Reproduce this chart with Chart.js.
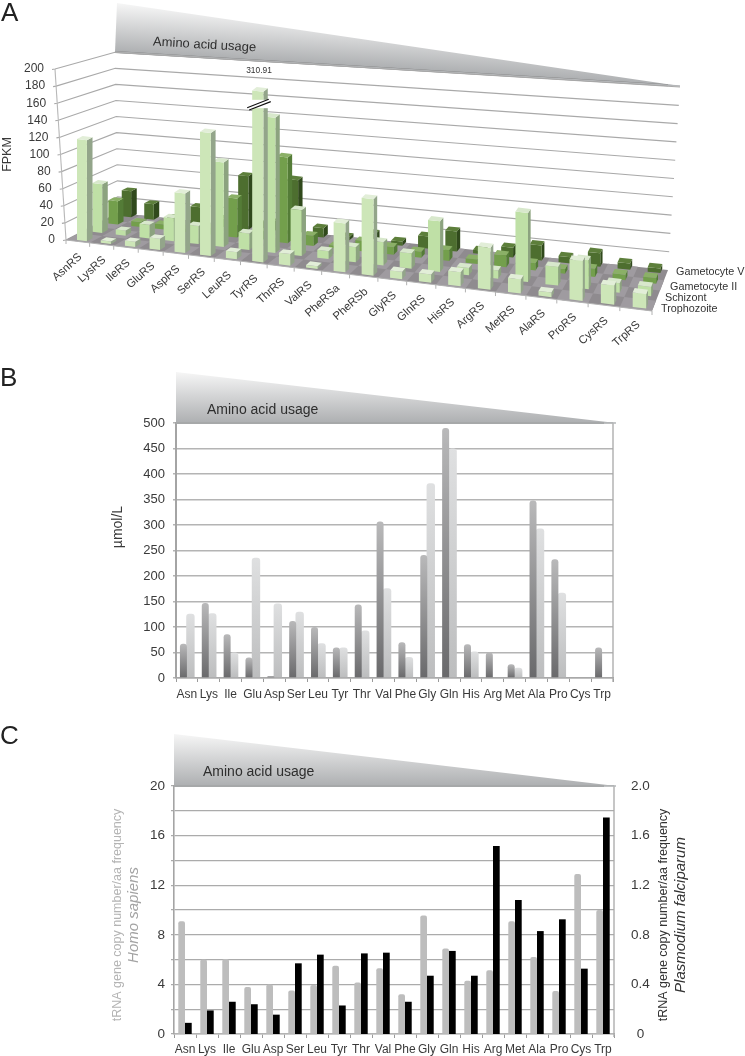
<!DOCTYPE html>
<html><head><meta charset="utf-8">
<script src="https://cdn.jsdelivr.net/npm/chart.js@4.4.0/dist/chart.umd.js"></script>
<style>
html,body{margin:0;padding:0;background:#fff;width:745px;height:1056px;overflow:hidden}
canvas{position:absolute;left:0;filter:blur(0.3px)}
#a{top:0}#b{top:360px}#c{top:715px}
</style></head><body>
<canvas id="a" width="745" height="345"></canvas>
<canvas id="b" width="745" height="350"></canvas>
<canvas id="c" width="745" height="341"></canvas>
<script>
// ---------- Panel A data (FPKM) ----------
const catsA=['AsnRS','LysRS','IleRS','GluRS','AspRS','SerRS','LeuRS','TyrRS','ThrRS','ValRS','PheRSa','PheRSb','GlyRS','GlnRS','HisRS','ArgRS','MetRS','AlaRS','ProRS','CysRS','TrpRS'];
const trophozoite=[118,3,6,13,68,140,8,310.91,13,3,54,84,8,9,15,45,15,5,42,20,15];
const schizont=[58,6,16,27,21,98,19,155,52,9,17,26,17,56,8,9,75,20,31,10,10];
const gametocyteII=[28,6,6,4,8,46,10,100,12,3,12,9,7,12,5,13,8,5,9,6,6];
const gametocyteV=[32,19,5,21,10,64,12,65,11,4,11,5,14,23,4,11,17,7,15,7,5];
const stages=['Trophozoite','Schizont','Gametocyte II','Gametocyte V'];
// ---------- Panel B data (umol/L) ----------
const catsAA=['Asn','Lys','Ile','Glu','Asp','Ser','Leu','Tyr','Thr','Val','Phe','Gly','Gln','His','Arg','Met','Ala','Pro','Cys','Trp'];
const plasmaDark=[67,147,86,40,4,112,100,60,144,307,70,241,490,66,50,27,348,233,0,60];
const plasmaLight=[126,127,50,236,146,130,68,60,93,176,41,382,450,52,0,20,293,167,0,0];
// ---------- Panel C data ----------
const homoSapiens=[9.1,6.0,6.05,3.8,4.0,3.5,3.95,5.5,4.15,5.3,3.2,9.55,6.9,4.3,5.15,9.1,6.2,3.47,12.9,10.0];
const plasmodium=[0.09,0.19,0.26,0.24,0.156,0.57,0.64,0.23,0.65,0.656,0.26,0.47,0.67,0.47,1.516,1.08,0.83,0.925,0.527,1.746];

const FONT='"Liberation Sans",Arial,sans-serif';
const TXT='#3a3a3a';
const lerp=(p,q,t)=>[p[0]+(q[0]-p[0])*t,p[1]+(q[1]-p[1])*t];

function poly(ctx,pts,fill){ctx.beginPath();pts.forEach((p,i)=>i?ctx.lineTo(p[0],p[1]):ctx.moveTo(p[0],p[1]));ctx.closePath();ctx.fillStyle=fill;ctx.fill();}
function text(ctx,s,x,y,font,color,rot,align){ctx.save();ctx.translate(x,y);if(rot)ctx.rotate(rot);ctx.font=font;ctx.fillStyle=color;ctx.textAlign=align||'left';ctx.textBaseline='middle';ctx.fillText(s,0,0);ctx.restore();}
function wedge(ctx,apex,base,tip,col0,col1){
  const dx=tip[0]-base[0],dy=tip[1]-base[1],l=(apex[0]-base[0])*dx+(apex[1]-base[1])*dy,q=dx*dx+dy*dy;
  const foot=[base[0]+dx*l/q,base[1]+dy*l/q];
  const g=ctx.createLinearGradient(apex[0],apex[1],foot[0],foot[1]);
  g.addColorStop(0,col0);g.addColorStop(1,col1);
  poly(ctx,[apex,tip,base],g);
  ctx.save();ctx.strokeStyle='#7d7d7d';ctx.lineWidth=2;ctx.beginPath();ctx.moveTo(base[0],base[1]);ctx.lineTo(tip[0]-12,tip[1]-(tip[1]-base[1])*12/(tip[0]-base[0]));ctx.stroke();ctx.restore();
  ctx.save();ctx.strokeStyle='#b5b7b9';ctx.lineWidth=1.4;ctx.beginPath();ctx.moveTo(base[0],base[1]);ctx.lineTo(tip[0],tip[1]);ctx.stroke();ctx.restore();
}

// ---------- Panel A perspective ----------
const FL=[66,240],FR=[652,311],BL=[118,213],BR=[668,270];
const ux=t=>.84*t+.16*t*t;
const floorPt=(t,w)=>{const u=ux(t);return lerp(lerp(FL,FR,u),lerp(BL,BR,u),w);};
const hFactor=(t,w)=>{const u=ux(t);return (1+.13*u)*(1-.06*w);};
const rowW=[.04,.34,.65,.91],rowD=.11,barT0=.38,barTW=.42;
const BAR_CAP=192;
const rowCol=[
 {f:'#cde6b8',s:'#93a58a',t:'#e2eed8'},
 {f:'#bfe0a6',s:'#8ca37f',t:'#d8e8cc'},
 {f:'#739f4c',s:'#547c37',t:'#8bb067'},
 {f:'#4d6e2f',s:'#30491c',t:'#5d7f3b'}];
const up=(p,h)=>[p[0],p[1]-h];

const plugA={id:'p3d',
 beforeDraw(ch){
  const xs=ch.scales.x,ys=ch.scales.y;
  xs.getLabelItems(ch.chartArea).forEach((it,i)=>{
    const p=floorPt((i+.5)/21,0);it.options.translation=[p[0]-2,p[1]+9];
  });
  ys.getLabelItems(ch.chartArea).forEach(it=>{
    const v=+it.label;it.options.translation=[44+(200-v)/200*11,it.options.translation[1]];
  });
 },
 beforeDatasetDraw(){return false;},
 beforeDatasetsDraw(ch){
  const c=ch.ctx,ys=ch.scales.y,y0=ys.getPixelForValue(0);
  wedge(c,[117,3],[115,52],[680,86],'#f6f6f6','#adafb1');
  c.save();c.strokeStyle='#a9a9a9';c.lineWidth=1.1;
  ys.ticks.forEach(tk=>{
    const r=tk.value/200,h=y0-ys.getPixelForValue(tk.value);
    const a=[FL[0]-11*r,FL[1]-h],b=[BL[0]-3*r,BL[1]-h*.94],d=[BR[0]+12*r,BR[1]-h*1.07];
    c.beginPath();c.moveTo(a[0]-3,a[1]+.5);c.lineTo(a[0],a[1]);c.lineTo(b[0],b[1]);if(tk.value>0)c.lineTo(d[0],d[1]);c.stroke();
  });
  c.beginPath();c.moveTo(FL[0],FL[1]);c.lineTo(FL[0]-11,FL[1]-(y0-ys.getPixelForValue(200)));c.strokeStyle='#b8b8b8';c.stroke();
  c.restore();
  poly(c,[FL,FR,BR,BL],'#8f8b8f');
  for(let i=0;i<21;i++)for(let d=0;d<4;d++){
    if((i+d)%2)continue;
    poly(c,[floorPt(i/21,d/4),floorPt((i+1)/21,d/4),floorPt((i+1)/21,(d+1)/4),floorPt(i/21,(d+1)/4)],'#9f9ba0');
  }
  c.save();c.strokeStyle='#b2b2b2';c.lineWidth=1;
  c.beginPath();c.moveTo(FL[0],FL[1]);c.lineTo(FR[0],FR[1]);
  for(let i=0;i<=21;i++){const p=floorPt(i/21,0);c.moveTo(p[0],p[1]);c.lineTo(p[0],p[1]+4);}
  c.stroke();c.restore();
  for(let d=3;d>=0;d--){
    const vals=ch.data.datasets[d].data,col=rowCol[d];
    vals.forEach((v,i)=>{
      const t0=(i+barT0)/21,t1=(i+barT0+barTW)/21,w0=rowW[d],w1=w0+rowD;
      const shown=Math.min(v,BAR_CAP);
      const h=(y0-ys.getPixelForValue(shown))*hFactor((t0+t1)/2,w0);
      const a=floorPt(t0,w0),b=floorPt(t1,w0),e=floorPt(t1,w1),f=floorPt(t0,w1);
      poly(c,[b,e,up(e,h),up(b,h)],col.s);
      poly(c,[a,b,up(b,h),up(a,h)],col.f);
      poly(c,[up(a,h),up(b,h),up(e,h),up(f,h)],col.t);
      if(v>BAR_CAP){
        const ya=a[1]-h*.896,yb=a[1]-h*.945;
        c.fillStyle='#fff';c.fillRect(a[0]-3,yb,e[0]-a[0]+6,ya-yb);
        c.save();c.strokeStyle='#111';c.lineWidth=1.1;c.beginPath();
        c.moveTo(a[0]-5,ya-.5);c.lineTo(e[0]+1,yb-.5);
        c.moveTo(a[0]-3,ya+1.8);c.lineTo(e[0]+3,yb+1.8);
        c.stroke();c.restore();
        text(c,String(v),(a[0]+e[0])/2-1,71,'8.4px '+FONT,'#333',0,'center');
      }
    });
  }
 },
 afterDraw(ch){
  const c=ch.ctx;
  text(c,'A',1,14,'26px '+FONT,'#222');
  text(c,'Amino acid usage',153,42,'13px '+FONT,'#2e2e2e',0.057);
  const pos=[[661,309],[665,298],[670,287],[676,272]];
  stages.forEach((s,i)=>text(c,s,pos[i][0],pos[i][1],'10.8px '+FONT,'#333'));
 }};

function pinArea(area,H){return {
  xAfter:s=>{s.height=H-area.bottom;},
  yAfter:s=>{s.width=area.left;},
  rAfter:s=>{s.width=745-area.right;}};}

const aArea={left:66,right:652,top:69,bottom:240};
const aPin=pinArea(aArea,345);
new Chart(document.getElementById('a'),{type:'bar',plugins:[plugA],
 data:{labels:catsA,datasets:[
  {label:stages[0],data:trophozoite},{label:stages[1],data:schizont},
  {label:stages[2],data:gametocyteII},{label:stages[3],data:gametocyteV}]},
 options:{responsive:false,animation:false,events:[],
  layout:{autoPadding:false,padding:{top:aArea.top,left:0,right:745-aArea.right,bottom:0}},
  plugins:{legend:{display:false},tooltip:{enabled:false}},
  scales:{
   x:{afterFit:aPin.xAfter,grid:{display:false},border:{display:false},
      ticks:{autoSkip:false,minRotation:42,maxRotation:42,color:TXT,font:{family:FONT,size:11.3}}},
   y:{min:0,max:200,afterFit:aPin.yAfter,grid:{display:false},border:{display:false},
      title:{display:true,text:'FPKM',color:TXT,padding:0,font:{family:FONT,size:12.5}},
      ticks:{stepSize:20,autoSkip:false,color:TXT,font:{family:FONT,size:12}}}
  }}});

// ---------- Panel B ----------
const bArea={left:176,right:613,top:63,bottom:318};
const bPin=pinArea(bArea,350);
function grad(c0,c1){return ctx=>{
  const ch=ctx.chart;
  if(!ch.chartArea||ctx.type!=='data'||!ctx.parsed)return c0;
  const y=ch.scales.y,g=ch.ctx.createLinearGradient(0,y.getPixelForValue(0),0,y.getPixelForValue(ctx.parsed.y));
  g.addColorStop(0,c0);g.addColorStop(1,c1);return g;};}
const plugB={id:'pb',
 beforeDatasetsDraw(ch){
  const c=ch.ctx,a=ch.chartArea;
  c.save();c.strokeStyle='#a8a8a8';c.lineWidth=1.3;c.beginPath();c.moveTo(a.right,a.top);c.lineTo(a.right,a.bottom+4);c.stroke();c.restore();
  wedge(c,[176,12],[176,63],[616,63],'#f6f6f6','#adafb1');
 },
 afterDraw(ch){
  const c=ch.ctx;
  text(c,'B',0,19,'26px '+FONT,'#222');
  text(c,'Amino acid usage',207,50,'14px '+FONT,'#2e2e2e');
  text(c,'µmol/L',118,167,'14px '+FONT,TXT,-Math.PI/2,'center');
 }};
new Chart(document.getElementById('b'),{type:'bar',plugins:[plugB],
 data:{labels:catsAA,datasets:[
  {label:'dark',data:plasmaDark,backgroundColor:grad('#69696b','#b9b9ba'),barPercentage:1,categoryPercentage:.64,borderRadius:{topLeft:3,topRight:3}},
  {label:'light',data:plasmaLight,backgroundColor:grad('#bcbdbe','#dfe0e1'),barPercentage:1.2,categoryPercentage:.64,borderRadius:{topLeft:3,topRight:3}}]},
 options:{responsive:false,animation:false,events:[],
  layout:{autoPadding:false,padding:{top:bArea.top,left:0,right:745-bArea.right,bottom:0}},
  plugins:{legend:{display:false},tooltip:{enabled:false}},
  scales:{
   x:{afterFit:bPin.xAfter,grid:{drawOnChartArea:false,color:'#9a9a9a',tickLength:4},border:{color:'#a8a8a8',width:1.5},
      ticks:{padding:5,maxRotation:0,autoSkip:false,color:TXT,font:{family:FONT,size:12}}},
   y:{min:0,max:500,afterFit:bPin.yAfter,grid:{color:'#b4b4b4',lineWidth:1.4,tickLength:3},border:{color:'#a4a4a4',width:2},
      ticks:{stepSize:50,padding:8,color:TXT,font:{family:FONT,size:13}}}
  }}});

// ---------- Panel C ----------
const cArea={left:174,right:614,top:71,bottom:319};
const cPin=pinArea(cArea,341);
const plugC={id:'pc',
 beforeDatasetsDraw(ch){
  const c=ch.ctx,a=ch.chartArea;
  c.save();c.strokeStyle='#a8a8a8';c.lineWidth=1.3;c.beginPath();c.moveTo(a.right,a.top);c.lineTo(a.right,a.bottom+3);c.stroke();c.restore();
  wedge(c,[174,19],[174,71],[616,71],'#f6f6f6','#adafb1');
 },
 afterDraw(ch){
  const c=ch.ctx,r=-Math.PI/2,mid=200;
  text(c,'C',0,22,'26px '+FONT,'#222');
  text(c,'Amino acid usage',203,57,'14px '+FONT,'#2e2e2e');
  text(c,'tRNA gene copy number/aa frequency',118,mid,'12.5px '+FONT,'#b4b4b4',r,'center');
  text(c,'Homo sapiens',134,mid,'italic 15px '+FONT,'#a3a3a3',r,'center');
  text(c,'tRNA gene copy number/aa frequency',664,mid,'12.5px '+FONT,'#333',r,'center');
  text(c,'Plasmodium falciparum',681,mid,'italic 15px '+FONT,'#333',r,'center');
 }};
new Chart(document.getElementById('c'),{type:'bar',plugins:[plugC],
 data:{labels:catsAA,datasets:[
  {label:'Homo sapiens',data:homoSapiens,yAxisID:'y',backgroundColor:'#bdbdbd',barPercentage:1,categoryPercentage:.61,borderRadius:{topLeft:2,topRight:2}},
  {label:'Plasmodium falciparum',data:plasmodium,yAxisID:'y2',backgroundColor:'#000',barPercentage:1,categoryPercentage:.61}]},
 options:{responsive:false,animation:false,events:[],
  layout:{autoPadding:false,padding:{top:cArea.top,left:0,right:0,bottom:0}},
  plugins:{legend:{display:false},tooltip:{enabled:false}},
  scales:{
   x:{afterFit:cPin.xAfter,grid:{drawOnChartArea:false,color:'#9a9a9a',tickLength:4},border:{color:'#b4b4b4',width:1.5},
      ticks:{padding:4,maxRotation:0,autoSkip:false,color:TXT,font:{family:FONT,size:12}}},
   y:{min:0,max:20,afterFit:cPin.yAfter,grid:{color:'#ababab',lineWidth:1.2,tickLength:3},border:{color:'#a4a4a4',width:1.6},
      ticks:{stepSize:2,padding:6,autoSkip:false,color:TXT,font:{family:FONT,size:13.5},callback:v=>v%4===0?String(v):''}},
   y2:{min:0,max:2,position:'right',afterFit:cPin.rAfter,grid:{drawOnChartArea:false,display:false},border:{display:false},
      ticks:{stepSize:.4,padding:9,crossAlign:'center',autoSkip:false,color:TXT,font:{family:FONT,size:13.5},callback:v=>v===0?'0':v.toFixed(1)}}
  }}});
</script>
</body></html>
